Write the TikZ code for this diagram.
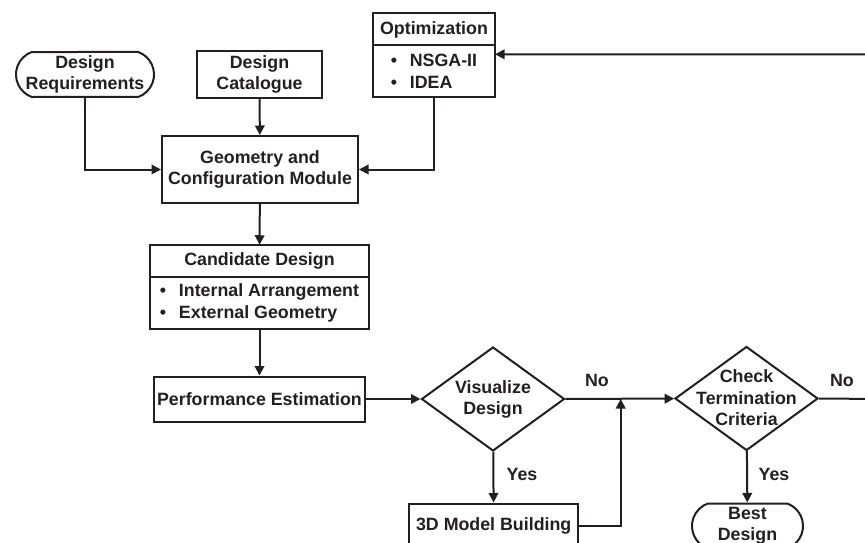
\documentclass[tikz,border=0pt]{standalone}
\usepackage{fontspec}
\setmainfont{Liberation Sans}
\usepackage{xcolor}
\definecolor{InkGray}{HTML}{231F20}
\usepackage{tikz}
\usetikzlibrary{arrows.meta, positioning, shapes.geometric, shapes.misc}

\newcommand{\itm}[1]{\makebox[19pt][l]{\textbullet}#1}

\begin{document}
\begin{tikzpicture}[
  x=1pt, y=-1pt,
  every node/.style={font=\bfseries\fontsize{17.8}{21.5}\selectfont, text=InkGray},
  box/.style={rectangle, draw=InkGray, line width=2pt, align=center, inner sep=0pt},
  listbox/.style={box, align=left},
  term/.style={rounded rectangle, rounded rectangle arc length=140, draw=InkGray,
    line width=2pt, align=center, inner sep=0pt},
  decision/.style={diamond, draw=InkGray, line width=2pt, inner sep=0pt,
    minimum width=143pt, minimum height=104pt},
  arr/.style={-{Triangle[length=9.5pt, width=9.5pt]}, draw=InkGray, line width=2pt},
  ans/.style={inner sep=0pt},
]
\useasboundingbox (0,0) rectangle (865,543);
\clip (0,0) rectangle (865,543);

%% -- Inputs --------------------------------------------------
\node[term, minimum width=138pt, minimum height=45pt] (req) at (85,74.5) {Design\\Requirements};
\node[box, minimum width=125pt, minimum height=47pt] (cat) at (259.5,74.5) {Design\\Catalogue};
\node[box, minimum width=122pt, minimum height=32pt, outer sep=0pt] (optHead) at (434,29.5) {Optimization};
\node[listbox, minimum width=122pt, minimum height=51.5pt, outer sep=0pt, below=0pt of optHead] (optList)
  {\itm{NSGA-II}\\\itm{IDEA}};

%% -- Main chain ----------------------------------------------
\node[box, minimum width=196pt, minimum height=67pt] (geo) at (260,169.5) {Geometry and\\Configuration Module};
\node[box, minimum width=219pt, minimum height=32.5pt, outer sep=0pt] (candHead) at (259.5,261) {Candidate Design};
\node[listbox, minimum width=219pt, minimum height=51.5pt, outer sep=0pt, below=0pt of candHead] (candList)
  {\itm{Internal Arrangement}\\\itm{External Geometry}};
\node[box, minimum width=211pt, minimum height=45pt] (perf) at (259.5,399) {Performance Estimation};

%% -- Decisions -----------------------------------------------
\node[decision] (vis) at (493,399) {};
\node[align=center] (visText) at (493,399.5) {Visualize\\Design};
\node[box, minimum width=169pt, minimum height=45pt] (model) at (493.7,526) {3D Model Building};
\node[decision] (chk) at (746.5,398.5) {};
\node[align=center] (chkText) at (746.5,398) {Check\\Termination\\Criteria};
\node[term, minimum width=111pt, minimum height=45pt] (best) at (747.5,526) {Best\\Design};

\node[ans] (visNo) at (597,380) {No};
\node[ans] (visYes) at (522,474) {Yes};
\node[ans] (chkNo) at (842,380) {No};
\node[ans] (chkYes) at (774,474) {Yes};

\coordinate (join) at (620.7,399);
\coordinate (loopR) at (880,399);
\coordinate (loopT) at (880,54.3);

%% Connectors
\draw[arr] (req.south) |- (geo.west);
\draw[arr] (cat) -- (geo);
\draw[arr] (optList.south) |- (geo.east);
\draw[arr] (geo) -- (candHead);
\draw[arr] (candList) -- (perf);
\draw[arr] (perf) -- (vis);
\draw[arr] (vis) -- (chk);
\draw[arr] (vis) -- (model);
\draw[arr] (model.east) -| (join);
\draw[arr] (chk) -- (best);
\draw[arr] (chk.east) -- (loopR) -- (loopT) -- (loopT -| optList.east);

\end{tikzpicture}
\end{document}
